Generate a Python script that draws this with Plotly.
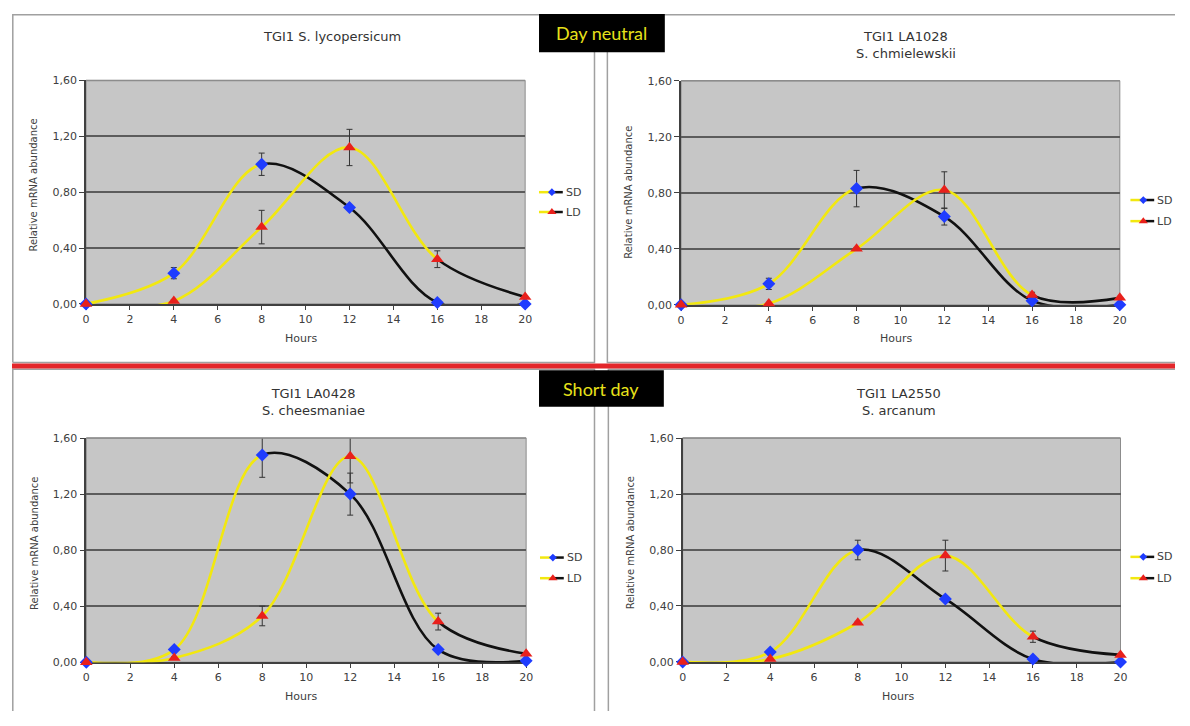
import plotly.graph_objects as go

# The page keeps the browser's default 8px body margin; the figure fills the rest
# of the 1190x726 window exactly, so all geometry below is in window pixels.
OFFX, OFFY = 8, 8
FW, FH = 1174, 710

# ---------------- data ----------------
hours = [0, 4, 8, 12, 16, 20]
x_tick_vals = [0, 2, 4, 6, 8, 10, 12, 14, 16, 18, 20]
x_tick_text = ["0", "2", "4", "6", "8", "10", "12", "14", "16", "18", "20"]
y_tick_vals = [0.0, 0.4, 0.8, 1.2, 1.6]
y_tick_text = ["0,00", "0,40", "0,80", "1,20", "1,60"]

titles = ["TGI1 S. lycopersicum",
          "TGI1 LA1028<br>S. chmielewskii",
          "TGI1 LA0428<br>S. cheesmaniae",
          "TGI1 LA2550<br>S. arcanum"]

sd_lyc = [0.00, 0.22, 1.00, 0.69, 0.01, 0.00]
sd_lyc_err = [0.00, 0.04, 0.08, 0.01, 0.00, 0.00]
ld_lyc = [0.00, 0.02, 0.55, 1.12, 0.32, 0.05]
ld_lyc_err = [0.00, 0.01, 0.12, 0.13, 0.06, 0.00]

sd_chm = [0.00, 0.15, 0.83, 0.63, 0.03, 0.00]
sd_chm_err = [0.00, 0.04, 0.13, 0.06, 0.01, 0.00]
ld_chm = [0.00, 0.01, 0.40, 0.82, 0.07, 0.05]
ld_chm_err = [0.00, 0.00, 0.01, 0.13, 0.02, 0.00]

sd_che = [0.00, 0.09, 1.48, 1.20, 0.09, 0.01]
sd_che_err = [0.00, 0.01, 0.16, 0.15, 0.01, 0.00]
ld_che = [0.00, 0.03, 0.33, 1.47, 0.29, 0.06]
ld_che_err = [0.00, 0.01, 0.07, 0.19, 0.06, 0.00]

sd_arc = [0.00, 0.07, 0.80, 0.45, 0.02, 0.00]
sd_arc_err = [0.00, 0.01, 0.07, 0.01, 0.00, 0.00]
ld_arc = [0.00, 0.02, 0.28, 0.76, 0.18, 0.05]
ld_arc_err = [0.00, 0.00, 0.01, 0.11, 0.04, 0.00]

sd_series = [sd_lyc, sd_chm, sd_che, sd_arc]
sd_errors = [sd_lyc_err, sd_chm_err, sd_che_err, sd_arc_err]
ld_series = [ld_lyc, ld_chm, ld_che, ld_arc]
ld_errors = [ld_lyc_err, ld_chm_err, ld_che_err, ld_arc_err]

sd_light_end = 8    # hours of light (yellow) for SD
ld_light_end = 16   # hours of light (yellow) for LD
x_max = 20
y_max = 1.6

section_labels = ["Day neutral", "Short day"]

# ---------------- geometry (window pixels) ----------------
RIGHT, BOTTOM = OFFX + FW, OFFY + FH
areas = [(82.7, 526.0, 75.7, 303.3),
         (683.4, 1126.3, 76.0, 304.3),
         (83.0, 527.0, 440.0, 668.3),
         (685.0, 1127.0, 440.0, 668.0)]
title_pos = [(331, 31), (910, 40), (312, 403), (903, 403)]
ytitle_pos = [(30, 182), (631, 190), (30, 547), (632, 547)]
hours_pos = [(300, 339), (900, 339), (300, 703), (902, 703)]
legend_pos = [(540, 189.5, 209.7), (1137, 197.5, 219), (541, 561.7, 582.7), (1137, 561, 582.7)]
frame_paths = [
    [(8.8, 363), (8.8, 8.8), (596, 8.8), (596, 363), (8.8, 363)],
    [(RIGHT, 8.8), (609, 8.8), (609, 363), (RIGHT, 363)],
    [(8.8, BOTTOM), (8.8, 370), (596, 370), (596, BOTTOM)],
    [(610, BOTTOM), (610, 370), (RIGHT, 370)],
]
label_boxes = [(540, 667, 8, 47), (540, 666, 371, 408)]

YELLOW = "#f2e80f"
BLACK = "#111111"
BLUE = "#1f3cff"
RED = "#e8201c"
TXT = "#404040"
FONT = "DejaVu Sans"
PER = 6  # subplots per panel


def px(x):
    return (x - OFFX) / FW


def py(y):
    return 1 - (y - OFFY) / FH


fig = go.Figure()
layout = {}
shapes = []
annotations = []


def axname(i, kind):
    return kind if i == 1 else f"{kind}{i}"


def ref(i, kind):
    return kind if i == 1 else f"{kind}{i}"


def add_axes(i, xdom, ydom, xr, yr, main=False):
    xa = dict(domain=xdom, range=xr, anchor=ref(i, "y"), fixedrange=True)
    ya = dict(domain=ydom, range=yr, anchor=ref(i, "x"), fixedrange=True)
    if main:
        xa.update(tickmode="array", tickvals=x_tick_vals, ticktext=x_tick_text,
                  ticks="outside", ticklen=4, tickwidth=1, tickcolor="#404040",
                  showline=True, linecolor="#404040", linewidth=1.5,
                  showgrid=False, zeroline=False,
                  tickfont=dict(family=FONT, size=11, color=TXT))
        ya.update(tickmode="array", tickvals=y_tick_vals, ticktext=y_tick_text,
                  ticks="outside", ticklen=5, tickwidth=1, tickcolor="#404040",
                  showline=True, linecolor="#404040", linewidth=1.5,
                  showgrid=True, gridcolor="#5c5c5c", gridwidth=2, zeroline=False,
                  tickfont=dict(family=FONT, size=11, color=TXT))
    else:
        xa.update(visible=False, showgrid=False, zeroline=False)
        ya.update(visible=False, showgrid=False, zeroline=False)
    layout[axname(i, "xaxis")] = xa
    layout[axname(i, "yaxis")] = ya


for p in range(4):
    x0, x1, top, bot = areas[p]
    base = PER * p + 1
    ydom = [py(bot), py(top)]
    scale = (x1 - x0) / x_max

    def xdom_for(a, b):
        return [px(x0 + scale * a), px(x0 + scale * b)]

    shapes.append(dict(type="rect", xref="paper", yref="paper",
                       x0=px(x0), x1=px(x1), y0=py(bot), y1=py(top),
                       fillcolor="#c6c6c6", line=dict(color="#8c8c8c", width=1),
                       layer="below"))
    shapes.append(dict(type="line", xref="paper", yref="paper",
                       x0=px(x0), x1=px(x1), y0=py(top), y1=py(top),
                       line=dict(color="#8c8c8c", width=1.5), layer="above"))

    # main axes (grid, ticks, error bars)
    add_axes(base, xdom_for(0, x_max), ydom, [0, x_max], [0, y_max], main=True)
    add_axes(base + 1, xdom_for(0, sd_light_end), ydom, [0, sd_light_end], [0, y_max])
    add_axes(base + 2, xdom_for(sd_light_end, x_max), ydom, [sd_light_end, x_max], [0, y_max])
    add_axes(base + 3, xdom_for(0, ld_light_end), ydom, [0, ld_light_end], [0, y_max])
    add_axes(base + 4, xdom_for(ld_light_end, x_max), ydom, [ld_light_end, x_max], [0, y_max])
    add_axes(base + 5, xdom_for(0, x_max), ydom, [0, x_max], [0, y_max])

    sd, ld = sd_series[p], ld_series[p]
    for ys, errs in [(sd, sd_errors[p]), (ld, ld_errors[p])]:
        fig.add_trace(go.Scatter(x=hours, y=ys, mode="markers",
                                 marker=dict(size=2, color="rgba(0,0,0,0)"),
                                 error_y=dict(type="data", array=errs, visible=True,
                                              color="#333333", thickness=1, width=3),
                                 xaxis=ref(base, "x"), yaxis=ref(base, "y"),
                                 showlegend=False, hoverinfo="skip"))
    line_specs = [(base + 1, sd, YELLOW), (base + 2, sd, BLACK),
                  (base + 3, ld, YELLOW), (base + 4, ld, BLACK)]
    for ax_i, ys, col in line_specs:
        fig.add_trace(go.Scatter(x=hours, y=ys, mode="lines",
                                 line=dict(color=col, width=2.6, shape="spline", smoothing=1.0),
                                 xaxis=ref(ax_i, "x"), yaxis=ref(ax_i, "y"),
                                 showlegend=False, hoverinfo="skip"))
    fig.add_trace(go.Scatter(x=hours, y=sd, mode="markers", cliponaxis=False,
                             marker=dict(symbol="diamond", size=10, color=BLUE,
                                         line=dict(width=0)),
                             xaxis=ref(base + 5, "x"), yaxis=ref(base + 5, "y"),
                             name="SD", showlegend=False))
    fig.add_trace(go.Scatter(x=hours, y=ld, mode="markers", cliponaxis=False,
                             marker=dict(symbol="triangle-up", size=11, color=RED,
                                         line=dict(width=0)),
                             xaxis=ref(base + 5, "x"), yaxis=ref(base + 5, "y"),
                             name="LD", showlegend=False))

    tx, ty = title_pos[p]
    annotations.append(dict(text=titles[p], x=px(tx), y=py(ty), xref="paper", yref="paper",
                            showarrow=False, xanchor="center", yanchor="middle",
                            font=dict(family=FONT, size=13, color="#333333")))
    ax_, ay_ = ytitle_pos[p]
    annotations.append(dict(text="Relative mRNA abundance", x=px(ax_), y=py(ay_),
                            xref="paper", yref="paper", showarrow=False, textangle=-90,
                            xanchor="center", yanchor="middle",
                            font=dict(family=FONT, size=10, color=TXT)))
    hx, hy = hours_pos[p]
    annotations.append(dict(text="Hours", x=px(hx), y=py(hy), xref="paper", yref="paper",
                            showarrow=False, xanchor="center", yanchor="middle",
                            font=dict(family=FONT, size=11, color=TXT)))

# canvas axes (window pixel coords) for legend glyphs
CAN = PER * 4 + 1
layout[axname(CAN, "xaxis")] = dict(domain=[0, 1], range=[OFFX, RIGHT], visible=False,
                                    anchor=ref(CAN, "y"), fixedrange=True)
layout[axname(CAN, "yaxis")] = dict(domain=[0, 1], range=[BOTTOM, OFFY], visible=False,
                                    anchor=ref(CAN, "x"), fixedrange=True)
for p in range(4):
    lx, ysd, yld = legend_pos[p]
    for yy, sym, col, sz, name in [(ysd, "diamond", BLUE, 6, "SD"), (yld, "triangle-up", RED, 8, "LD")]:
        fig.add_trace(go.Scatter(x=[lx, lx + 11], y=[yy, yy], mode="lines",
                                 line=dict(color=YELLOW, width=2.5),
                                 xaxis=ref(CAN, "x"), yaxis=ref(CAN, "y"),
                                 showlegend=False, hoverinfo="skip"))
        fig.add_trace(go.Scatter(x=[lx + 14, lx + 24], y=[yy, yy], mode="lines",
                                 line=dict(color=BLACK, width=2.5),
                                 xaxis=ref(CAN, "x"), yaxis=ref(CAN, "y"),
                                 showlegend=False, hoverinfo="skip"))
        fig.add_trace(go.Scatter(x=[lx + 13], y=[yy], mode="markers",
                                 marker=dict(symbol=sym, size=sz, color=col),
                                 xaxis=ref(CAN, "x"), yaxis=ref(CAN, "y"),
                                 showlegend=False, hoverinfo="skip"))
        annotations.append(dict(text=name, x=px(lx + 25), y=py(yy), xref="paper", yref="paper",
                                showarrow=False, xanchor="left", yanchor="middle",
                                font=dict(family=FONT, size=11, color=TXT)))

for pts in frame_paths:
    path = "M " + " L ".join(f"{px(a):.5f},{py(b):.5f}" for a, b in pts)
    shapes.append(dict(type="path", xref="paper", yref="paper", path=path,
                       line=dict(color="#a0a0a0", width=1.5), fillcolor="rgba(0,0,0,0)",
                       layer="below"))
shapes.append(dict(type="line", xref="paper", yref="paper",
                   x0=px(OFFX), x1=px(RIGHT), y0=py(366.5), y1=py(366.5),
                   line=dict(color="#e3262a", width=5), layer="above"))
for (bx0, bx1, by0, by1), lab in zip(label_boxes, section_labels):
    shapes.append(dict(type="rect", xref="paper", yref="paper",
                       x0=px(bx0), x1=px(bx1), y0=py(by1), y1=py(by0),
                       fillcolor="#000000", line=dict(width=0), layer="above"))
    annotations.append(dict(text=lab, x=px((bx0 + bx1) / 2), y=py((by0 + by1) / 2),
                            xref="paper", yref="paper", showarrow=False,
                            xanchor="center", yanchor="middle",
                            font=dict(family="Lato", size=18, color="#e8e21a")))

layout.update(width=FW, height=FH, margin=dict(l=0, r=0, t=0, b=0),
              paper_bgcolor="white", plot_bgcolor="rgba(0,0,0,0)",
              showlegend=False, shapes=shapes, annotations=annotations)
fig.update_layout(**layout)
fig.write_html("out.html", config={"displayModeBar": False, "displaylogo": False})
